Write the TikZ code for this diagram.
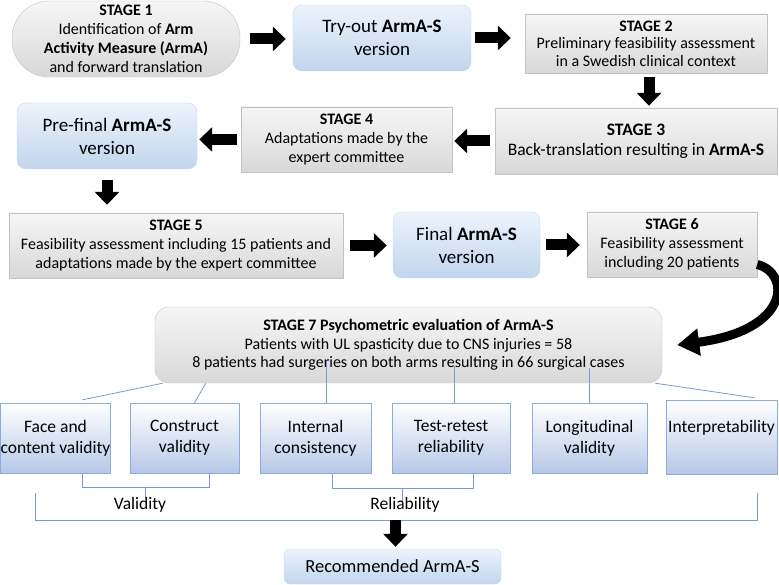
\documentclass[tikz,border=0pt]{standalone}
\usepackage{fontspec}
\setmainfont{Carlito}
\usetikzlibrary{arrows.meta}
\definecolor{graytop}{HTML}{F6F6F6}
\definecolor{graybot}{HTML}{D8D8D8}
\definecolor{grayline}{HTML}{C2C2C2}
\definecolor{bluetop}{HTML}{EDF3FB}
\definecolor{bluebot}{HTML}{C2D5EE}
\definecolor{blueline}{HTML}{C8D8EC}
\definecolor{evalline}{HTML}{8EA9DB}
\definecolor{evalbot}{HTML}{B6C8E8}
\definecolor{linkblue}{HTML}{7A98D6}
\begin{document}
\begin{tikzpicture}[x=1pt, y=-1pt, line join=round,
    stagebox/.style={draw=grayline, top color=graytop, bottom color=graybot, align=center, inner sep=0pt, font=\fontsize{16}{19}\selectfont},
    verbox/.style={draw=blueline, top color=bluetop, bottom color=bluebot, rounded corners=9pt, align=center, inner sep=0pt, font=\fontsize{19}{23}\selectfont},
    evalbox/.style={draw=evalline, top color=white, bottom color=evalbot, align=center, inner sep=0pt, minimum height=70pt, font=\fontsize{17.5}{21}\selectfont},
    blk/.style={line width=11pt, -{Triangle[length=13pt,width=24pt]}},
    link/.style={draw=linkblue, line width=.8pt}]
  \useasboundingbox (0,0) rectangle (779,585);
  % translation stages
  \node[stagebox, rounded corners=37pt, minimum width=228pt, minimum height=76pt] (s1) at (126,39) {\textbf{STAGE 1}\\Identification of \textbf{Arm}\\\textbf{Activity Measure (ArmA)}\\and forward translation};
  \node[verbox, minimum width=178pt, minimum height=66pt] (tryout) at (382,38) {Try-out \textbf{ArmA-S}\\version};
  \node[stagebox, minimum width=242pt, minimum height=59pt, font=\fontsize{16}{17.5}\selectfont] (s2) at (646,43.5) {\textbf{STAGE 2}\\Preliminary feasibility assessment\\in a Swedish clinical context};
  \node[stagebox, minimum width=282pt, minimum height=66pt, font=\fontsize{17.5}{20}\selectfont] (s3) at (636,141) {\textbf{STAGE 3}\\Back-translation resulting in \textbf{ArmA-S}};
  \node[stagebox, minimum width=211pt, minimum height=65pt] (s4) at (346.5,139.5) {\textbf{STAGE 4}\\Adaptations made by the\\expert committee};
  \node[verbox, minimum width=180pt, minimum height=66pt] (prefinal) at (107,136) {Pre-final \textbf{ArmA-S}\\version};
  \node[stagebox, minimum width=334pt, minimum height=65pt] (s5) at (176,245.5) {\textbf{STAGE 5}\\Feasibility assessment including 15 patients and\\adaptations made by the expert committee};
  \node[verbox, minimum width=147pt, minimum height=66pt] (final) at (466.5,245) {Final \textbf{ArmA-S}\\version};
  \node[stagebox, minimum width=170pt, minimum height=65pt] (s6) at (672,244.5) {\textbf{STAGE 6}\\Feasibility assessment\\including 20 patients};
  \node[stagebox, rounded corners=14pt, minimum width=507pt, minimum height=76pt, font=\fontsize{16}{18.5}\selectfont] (s7) at (408.5,345) {\textbf{STAGE 7 Psychometric evaluation of ArmA-S}\\Patients with UL spasticity due to CNS injuries = 58\\8 patients had surgeries on both arms resulting in 66 surgical cases};
  \draw[blk, shorten <=10pt, shorten >=7pt] (s1.east) -- (s1.east -| tryout.west);
  \draw[blk, shorten <=4pt, shorten >=14pt] (tryout.east) -- (tryout.east -| s2.west);
  \draw[blk, shorten <=4pt, shorten >=2pt] ([xshift=3pt]s2.south) -- ([xshift=3pt]s2.south |- s3.north);
  \draw[blk, shorten <=5pt, shorten >=2pt] (s3.west) -- (s3.west -| s4.east);
  \draw[blk, shorten <=4pt, shorten >=2pt] (s4.west) -- (s4.west -| prefinal.east);
  \draw[blk, shorten <=11pt, shorten >=8pt] (prefinal.south) -- (prefinal.south |- s5.north);
  \draw[blk, shorten <=7pt, shorten >=6pt] (s5.east) -- (s5.east -| final.west);
  \draw[blk, shorten <=6pt, shorten >=7pt] (final.east) -- (final.east -| s6.west);
  \draw[line width=9pt, -{Triangle[length=22pt,width=26pt]}] ([yshift=-20pt]s6.east) .. controls +(33,8) and +(115,-15) .. ([xshift=15pt]s7.east);
  % psychometric properties
  \foreach \nm/\cx/\bw/\txt in {face/55.5/109/{Face and\\content validity}, construct/184.5/109/{Construct\\validity}, internal/315.5/111/{Internal\\consistency}, testretest/451/118/{Test-retest\\reliability}, longit/589.5/115/{Longitudinal\\validity}}
    \node[evalbox, minimum width=\bw pt] (\nm) at (\cx,438) {\txt};
  \node[evalbox, minimum width=111pt, minimum height=74pt] (interp) at (721.5,437) {Interpretability\\\mbox{}};
  \draw[link] ([xshift=8pt]s7.south west) -- ([shift={(27,-3)}]face.north);
  \draw[link] ([xshift=51pt]s7.south west) -- ([xshift=10pt]construct.north);
  \draw[link] ([xshift=11pt]internal.north) -- ++(0,-42);
  \draw[link] ([xshift=3pt]testretest.north) -- ++(0,-37);
  \draw[link] (longit.north) -- ++(0,-35);
  \draw[link] ([xshift=-7pt]s7.south east) -- ([shift={(33,-2)}]interp.north);
  % groupings
  \draw[link] ([xshift=27pt]face.south) -- ++(0,14) -- ++(63,0) coordinate (valmid) -| ([xshift=25pt]construct.south);
  \draw[link] (valmid) -- ++(0,11);
  \draw[link] ([xshift=17pt]internal.south) -- ++(0,15) -- ++(70,0) coordinate (relmid) -| ([xshift=22pt]testretest.south);
  \draw[link] (relmid) -- ++(0,14);
  \node[font=\fontsize{17.5}{20}\selectfont] (valtxt) at (140,505) {Validity};
  \node[font=\fontsize{17.5}{20}\selectfont] (reltxt) at (405,505) {Reliability};
  \draw[link] ([shift={(-20,20)}]face.south) -- ++(0,27) -| ([shift={(36,19)}]interp.south);
  \node[verbox, rounded corners=6pt, minimum width=217pt, minimum height=35pt, font=\fontsize{18.5}{20}\selectfont] (recom) at (392.5,566.5) {Recommended ArmA-S};
  \draw[blk, shorten >=2pt] ([shift={(3,-29)}]recom.north) -- ([xshift=3pt]recom.north);
\end{tikzpicture}
\end{document}
